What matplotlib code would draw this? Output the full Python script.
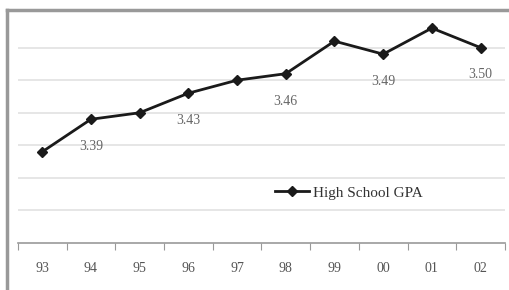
import matplotlib.pyplot as plt
from matplotlib.lines import Line2D

years = ['93', '94', '95', '96', '97', '98', '99', '00', '01', '02']
gpa = [3.34, 3.39, 3.40, 3.43, 3.45, 3.46, 3.51, 3.49, 3.53, 3.50]
labeled = {1: '3.39', 3: '3.43', 5: '3.46', 7: '3.49', 9: '3.50'}

plt.rcParams['font.family'] = ['Liberation Serif', 'DejaVu Serif']

fig = plt.figure(figsize=(5.09, 2.90), dpi=100)
ax = fig.add_axes([0.035, 0.162, 0.957, 0.786])

x = list(range(len(years)))
ax.plot(x, gpa, color='#1a1a1a', lw=2, marker='D', ms=5.5, label='High School GPA')
for i, txt in labeled.items():
    ax.annotate(txt, (i, gpa[i]), xytext=(0, -15), textcoords='offset points',
                ha='center', va='top', fontsize=10, color='#666666')

ax.set_xlim(-0.5, len(years) - 0.5)
ax.set_ylim(3.20, 3.55)
ax.set_yticks([3.25, 3.30, 3.35, 3.40, 3.45, 3.50])
ax.set_yticklabels([])
ax.tick_params(axis='y', length=0)
ax.grid(axis='y', color='#e2e2e2', lw=1.2)
ax.set_axisbelow(True)

ax.set_xticks([i - 0.5 for i in range(len(years) + 1)], minor=False)
ax.set_xticklabels([])
ax.set_xticks(x, minor=True)
ax.set_xticklabels(years, minor=True, fontsize=10, color='#555555')
ax.tick_params(axis='x', which='major', length=5, color='#999999', direction='out')
ax.tick_params(axis='x', which='minor', length=0, pad=14)

for s in ['top', 'right', 'left']:
    ax.spines[s].set_visible(False)
ax.spines['bottom'].set_color('#999999')
ax.spines['bottom'].set_linewidth(1.2)

ax.legend(loc='center left', bbox_to_anchor=(0.5, 0.22), frameon=False,
          fontsize=11, handlelength=2.2, handletextpad=0.3, labelcolor='#333333')

# chart frame edges
fig.add_artist(Line2D([0.014, 0.014], [0, 0.965], color='#999999', lw=2.5,
                      transform=fig.transFigure))
fig.add_artist(Line2D([0.014, 1.0], [0.965, 0.965], color='#999999', lw=2.5,
                      transform=fig.transFigure))

fig.savefig('out.png', dpi=100)
